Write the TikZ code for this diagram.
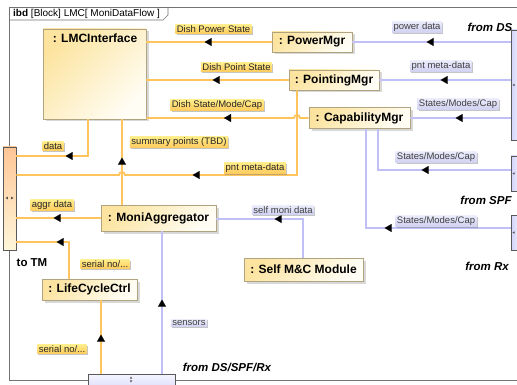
\documentclass[tikz,border=0pt]{standalone}
\usepackage{fontspec}
\setmainfont{Liberation Sans}
\usetikzlibrary{arrows.meta,decorations.markings,shadows,calc}
\definecolor{olinec}{RGB}{255,196,92}
\definecolor{blinec}{RGB}{192,192,246}
\definecolor{frameg}{RGB}{115,115,115}
\definecolor{blkA}{RGB}{252,228,160}
\definecolor{blkB}{RGB}{255,253,244}
\definecolor{blkD}{RGB}{176,164,128}
\definecolor{olA}{RGB}{255,238,140}
\definecolor{olB}{RGB}{255,203,92}
\definecolor{blA}{RGB}{236,236,252}
\definecolor{blB}{RGB}{208,208,242}
\definecolor{tmA}{RGB}{255,198,150}
\definecolor{tmB}{RGB}{255,246,218}
\definecolor{prA}{RGB}{246,246,255}
\definecolor{prB}{RGB}{210,210,250}
\newcommand{\lblfont}{\fontsize{9.5}{11}\selectfont}
\newcommand{\blkfont}{\fontsize{12}{14}\selectfont\bfseries}
\newcommand{\fromfont}{\fontsize{11.5}{13}\selectfont\bfseries\itshape}
\tikzset{
  block/.style={draw=blkD, line width=0.7pt, top color=blkA, bottom color=blkB, shading angle=45,
    drop shadow={shadow xshift=2.5pt,shadow yshift=-2.5pt,opacity=0.3}, font=\blkfont, inner sep=0pt},
  olab/.style={top color=olA, bottom color=olB, font=\lblfont, inner xsep=1.5pt, inner ysep=1.2pt,
    drop shadow={shadow xshift=1.2pt,shadow yshift=-1.2pt,opacity=0.45}, text=black!85},
  blab/.style={top color=blA, bottom color=blB, font=\lblfont, inner xsep=1.5pt, inner ysep=1.2pt,
    drop shadow={shadow xshift=1.2pt,shadow yshift=-1.2pt,opacity=0.45}, text=black!75},
  ocon/.style={draw=olinec, line width=1.8pt},
  bcon/.style={draw=blinec, line width=1.8pt},
  arrowat/.style={postaction={decorate,decoration={markings,
    mark=at position #1 with {\arrow[black,line width=0.1pt]{Triangle[length=7pt,width=8pt]}}}}},
  tmport/.style={draw=black!65, line width=0.7pt, top color=tmA, bottom color=tmB, inner sep=0pt},
  rport/.style={draw=black!65, line width=0.7pt, left color=prB, right color=prA, inner sep=0pt},
  bport/.style={draw=black!65, line width=0.7pt, top color=prA, bottom color=prB, inner sep=0pt},
  fromtxt/.style={font=\fromfont, inner sep=0pt},
}
\begin{document}
\begin{tikzpicture}[x=1pt,y=-1pt]
\useasboundingbox (0,0) rectangle (517,385);
\fill[white] (0,0) rectangle (517,385);
% frame
\draw[frameg, line width=0.8pt] (525,7) -- (9,7) -- (9,380) -- (525,380);
\draw[frameg, line width=0.6pt] (9,20) -- (163,20) -- (168,15) -- (168,7);
\node[anchor=west, font=\fontsize{10}{12}\selectfont, inner sep=0pt] (hdr) at (13,14) {\textbf{ibd} [Block] LMC[ MoniDataFlow ]};

% blocks
\node[block, minimum width=103pt, minimum height=90pt] (lmc) at (94.5,74) {};
\node[font=\blkfont, inner sep=0pt] (lmct) at (95,38) {: LMCInterface};
\node[block, minimum width=80pt, minimum height=20pt] (pm) at (312,42) {: PowerMgr};
\node[block, minimum width=90pt, minimum height=20pt] (pim) at (334,80) {: PointingMgr};
\node[block, minimum width=101pt, minimum height=21pt] (cap) at (359.5,118) {: CapabilityMgr};
\node[block, minimum width=115pt, minimum height=26pt] (agg) at (158.5,218) {: MoniAggregator};
\node[block, minimum width=119pt, minimum height=23pt] (smc) at (303.5,269.5) {: Self M\&C Module};
\node[block, minimum width=95pt, minimum height=21pt] (lcc) at (89.5,289.5) {: LifeCycleCtrl};

% ports
\node[tmport, minimum width=13pt, minimum height=103pt] (tmp) at (9.5,198.5) {};
\node[rport, minimum width=10pt, minimum height=110pt] (ds) at (516,85) {};
\node[rport, minimum width=10pt, minimum height=35pt] (spf) at (516,173.5) {};
\node[rport, minimum width=10pt, minimum height=35pt] (rx) at (516,232.5) {};
\node[bport, minimum width=87pt, minimum height=20pt] (bp) at (131.5,384) {};
\fill[black!70] (5.5,198) -- (7.8,196.7) -- (7.8,199.3) -- cycle;
\fill[black!70] (13.5,198) -- (11.2,196.7) -- (11.2,199.3) -- cycle;
\foreach \yy in {85,173.5,232.5}{\fill[black!70] (512.5,\yy) -- (514.6,\yy-1.2) -- (514.6,\yy+1.2) -- cycle;}
\fill[black!70] (131,376.5) -- (129.8,378.6) -- (132.2,378.6) -- cycle;
\fill[black!70] (131,382.5) -- (129.8,380.4) -- (132.2,380.4) -- cycle;

% orange connectors
\draw[ocon, arrowat=67pt] (pm.west) -- (pm.west -| lmc.east);
\draw[ocon, arrowat=76pt] (pim.west) -- (pim.west -| lmc.east);
\draw[ocon, arrowat=88pt] (cap.west) -- (300,0 |- cap.west) arc[start angle=0,end angle=-180,radius=3] -- (cap.west -| lmc.east);
\draw[ocon, arrowat=189pt] (297,0 |- pim.south) -- (297,175) -- (125,175) arc[start angle=0,end angle=-180,radius=3] -- (tmp.east |- 0,175);
\draw[ocon, arrowat=59pt] (88,0 |- lmc.south) -- (88,156) -- (tmp.east |- 0,156);
\draw[ocon, arrowat=47pt] (122,0 |- agg.north) -- (122,0 |- lmc.south);
\draw[ocon, arrowat=47pt] (agg.west) -- (agg.west -| tmp.east);
\draw[ocon, arrowat=49pt] (69,0 |- lcc.north) -- (69,242) -- (tmp.east |- 0,242);
\draw[ocon, arrowat=39pt] (101,0 |- bp.north) -- (101,0 |- lcc.south);

% blue connectors
\draw[bcon, arrowat=84pt] (ds.west |- pm.east) -- (pm.east);
\draw[bcon, arrowat=70pt] (ds.west |- pim.east) -- (pim.east);
\draw[bcon, arrowat=55pt] (ds.west |- cap.east) -- (cap.east);
\draw[bcon, arrowat=89pt] (spf.west |- 0,170) -- (378,170) -- (378,0 |- cap.south);
\draw[bcon, arrowat=126pt] (rx.west |- 0,228) -- (366,228) -- (366,0 |- cap.south);
\draw[bcon, arrowat=67pt] (303,0 |- smc.north) -- (303,219) -- (agg.east |- 0,219);
\draw[bcon, arrowat=74pt] (162,0 |- bp.north) -- (162,0 |- agg.south);

% labels
\node[olab] (l1) at (213.5,29) {Dish Power State};
\node[olab] (l2) at (236.5,67) {Dish Point State};
\node[olab] (l3) at (217,105) {Dish State/Mode/Cap};
\node[olab] (l4) at (53,146) {data};
\node[olab] (l5) at (179,142) {summary points (TBD)};
\node[olab] (l6) at (255,168) {pnt meta-data};
\node[olab] (l7) at (52,205) {aggr data};
\node[olab] (l8) at (105,264) {serial no/...};
\node[olab] (l9) at (62,349) {serial no/...};
\node[blab] (m1) at (189,323) {sensors};
\node[blab] (m2) at (283,210) {self moni data};
\node[blab] (m3) at (417,27) {power data};
\node[blab] (m4) at (441,66) {pnt meta-data};
\node[blab] (m5) at (458,104) {States/Modes/Cap};
\node[blab] (m6) at (436,157) {States/Modes/Cap};
\node[blab] (m7) at (436,221) {States/Modes/Cap};

% free texts
\node[fromtxt] (fds) at (490,27) {from DS};
\node[fromtxt] (fspf) at (486,200) {from SPF};
\node[fromtxt] (frx) at (487,266) {from Rx};
\node[fromtxt] (fall) at (227,367) {from DS/SPF/Rx};
\node[font=\fontsize{11.5}{13}\selectfont\bfseries, inner sep=0pt] (totm) at (32,263) {to TM};
\end{tikzpicture}
\end{document}
